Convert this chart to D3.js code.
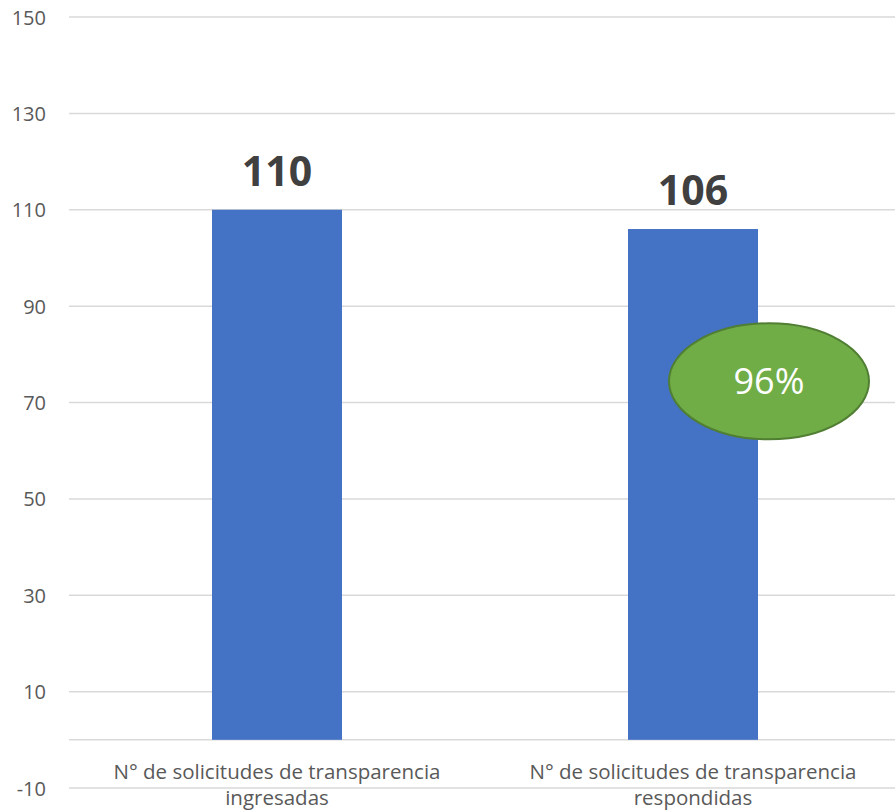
<!DOCTYPE html>
<html>
<head>
<meta charset="utf-8">
<script src="https://cdn.jsdelivr.net/npm/d3@7"></script>
<style>
  html, body { margin: 0; padding: 0; background: #fff; }
  svg { display: block; }
</style>
</head>
<body>
<svg id="chart" width="895" height="812"></svg>
<script>
const categories = [
  ["N° de solicitudes de transparencia", "ingresadas"],
  ["N° de solicitudes de transparencia", "respondidas"]
];
const values = [110, 106];
const yTicks = [-10, 10, 30, 50, 70, 90, 110, 130, 150];
const percentLabel = "96%";

const W = 895, H = 812;
const svg = d3.select("#chart");
const font = "'Open Sans', 'Liberation Sans', Arial, sans-serif";

const y = d3.scaleLinear().domain([-10, 150]).range([788, 17]);
const x = d3.scaleBand().domain(d3.range(values.length)).range([69, 901])
  .paddingInner(0.6875).paddingOuter(0.34375);

// gridlines
svg.append("g").selectAll("line").data(yTicks.concat([0])).join("line")
  .attr("x1", 69).attr("x2", W)
  .attr("y1", d => y(d)).attr("y2", d => y(d))
  .attr("stroke", "#d9d9d9").attr("stroke-width", 1.5);

// y axis labels
const yAxis = d3.axisLeft(y).tickValues(yTicks).tickSize(0).tickPadding(0)
  .tickFormat(d => String(d));
const gy = svg.append("g").attr("transform", "translate(46,0)").call(yAxis);
gy.select(".domain").remove();
gy.selectAll("text").attr("font-family", font).attr("font-size", 20)
  .attr("fill", "#595959").attr("dy", "0.35em");

// bars
svg.append("g").selectAll("rect").data(values).join("rect")
  .attr("x", (d, i) => x(i)).attr("width", x.bandwidth())
  .attr("y", d => y(d)).attr("height", d => y(0) - y(d))
  .attr("fill", "#4472C4");

// value labels
svg.append("g").selectAll("text").data(values).join("text")
  .attr("x", (d, i) => x(i) + x.bandwidth() / 2)
  .attr("y", d => y(d) - 24)
  .attr("text-anchor", "middle")
  .attr("font-family", font).attr("font-size", 41).attr("font-weight", "bold")
  .attr("fill", "#404040")
  .text(d => d);

// category labels
const cat = svg.append("g").selectAll("text").data(categories).join("text")
  .attr("x", (d, i) => x(i) + x.bandwidth() / 2)
  .attr("y", 779)
  .attr("text-anchor", "middle")
  .attr("font-family", font).attr("font-size", 20.5).attr("fill", "#595959");
cat.selectAll("tspan").data(d => d).join("tspan")
  .attr("x", function() { return d3.select(this.parentNode).attr("x"); })
  .attr("dy", (d, i) => i === 0 ? 0 : 26)
  .text(d => d);

// percentage ellipse
const cx = x(1) + x.bandwidth() / 2 + 76;
const cy = y(74.4);
svg.append("ellipse")
  .attr("cx", cx).attr("cy", cy).attr("rx", 100).attr("ry", 58)
  .attr("fill", "#70AD47").attr("stroke", "#507E32").attr("stroke-width", 2);
svg.append("text")
  .attr("x", cx).attr("y", cy + 13)
  .attr("text-anchor", "middle")
  .attr("font-family", font).attr("font-size", 36).attr("fill", "#ffffff")
  .text(percentLabel);
</script>
</body>
</html>
